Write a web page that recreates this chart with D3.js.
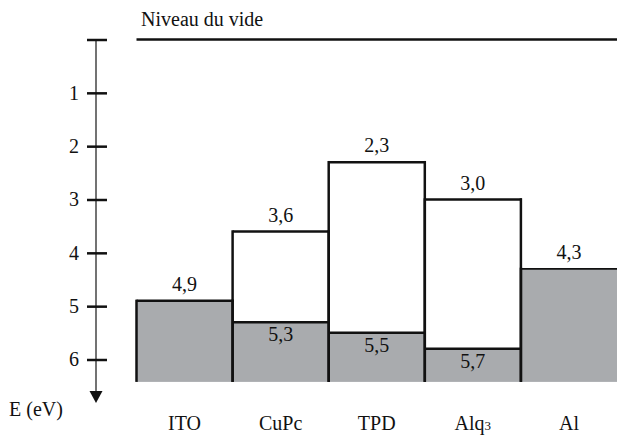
<!DOCTYPE html>
<html>
<head>
<meta charset="utf-8">
<script src="https://cdn.jsdelivr.net/npm/d3@7"></script>
<style>
  body { margin: 0; background: #fff; }
</style>
</head>
<body>
<div id="chart"></div>
<script>
// materials, left to right
const materials = ["ITO", "CuPc", "TPD", "Alq", "Al"];
// LUMO level (null for electrodes)
const lumo = [null, 3.6, 2.3, 3.0, null];
// HOMO level / work function, as drawn
const homo = [4.9, 5.3, 5.5, 5.8, 4.3];
const lumoLabels = [null, "3,6", "2,3", "3,0", null];
const homoLabels = ["4,9", "5,3", "5,5", "5,7", "4,3"];
const tickVals = [0, 1, 2, 3, 4, 5, 6];

const width = 617, height = 436;
const serif = "Liberation Serif";
const svg = d3.select("#chart").append("svg")
  .attr("width", width).attr("height", height)
  .style("font-family", serif);

const y = d3.scaleLinear().domain([0, 6]).range([39.5, 359.5]);
const x = d3.scaleBand().domain(materials).range([136.5, 617]).padding(0);
const bottom = y(6.42);
const grey = "#a9abae";

function label(sel) {
  return sel.style("font-family", serif).style("font-size", "20px").attr("fill", "#111");
}

// vacuum level
svg.append("line")
  .attr("x1", 136.5).attr("x2", width)
  .attr("y1", y(0)).attr("y2", y(0))
  .attr("stroke", "#111").attr("stroke-width", 2.5);
label(svg.append("text").attr("x", 141).attr("y", 26)).text("Niveau du vide");

// energy axis
svg.append("line")
  .attr("x1", 96).attr("x2", 96)
  .attr("y1", y(0)).attr("y2", 392)
  .attr("stroke", "#444").attr("stroke-width", 1.5);
svg.append("path")
  .attr("d", "M89.5,391 L102.5,391 L96,403 Z")
  .attr("fill", "#111");

const axis = d3.axisLeft(y)
  .tickValues(tickVals)
  .tickSize(20)
  .tickPadding(8)
  .tickFormat(d => d === 0 ? "" : d);
const gAxis = svg.append("g")
  .attr("transform", "translate(107,0)")
  .call(axis);
gAxis.attr("font-family", serif).attr("font-size", 20);
gAxis.select(".domain").remove();
gAxis.selectAll(".tick line").attr("stroke", "#111").attr("stroke-width", 2.5);
label(gAxis.selectAll(".tick text"));

label(svg.append("text").attr("x", 9).attr("y", 416)).text("E (eV)");

// columns: fills first
const cols = svg.append("g");
materials.forEach((m, i) => {
  const x0 = x(m), w = x.bandwidth();
  cols.append("rect")
    .attr("x", x0).attr("y", y(homo[i]))
    .attr("width", w).attr("height", bottom - y(homo[i]))
    .attr("fill", grey);
});

// outlines and labels
materials.forEach((m, i) => {
  const x0 = x(m), w = x.bandwidth();
  const last = i === materials.length - 1;
  const top = lumo[i] !== null ? y(lumo[i]) : y(homo[i]);
  const sw = last ? 1.8 : 2.5;
  cols.append("line")
    .attr("x1", x0).attr("x2", last ? width : x0 + w + 1)
    .attr("y1", top).attr("y2", top)
    .attr("stroke", "#111").attr("stroke-width", sw);
  if (lumo[i] !== null) {
    cols.append("line")
      .attr("x1", x0).attr("x2", x0 + w + 1)
      .attr("y1", y(homo[i])).attr("y2", y(homo[i]))
      .attr("stroke", "#111").attr("stroke-width", 2.5);
  }
  // left edge
  cols.append("line")
    .attr("x1", x0).attr("x2", x0)
    .attr("y1", top - 1.2).attr("y2", bottom)
    .attr("stroke", "#111").attr("stroke-width", 2.5);
  // right edge
  if (!last) {
    cols.append("line")
      .attr("x1", x0 + w).attr("x2", x0 + w)
      .attr("y1", top - 1.2).attr("y2", bottom)
      .attr("stroke", "#111").attr("stroke-width", 2.5);
  }

  const cx = last ? (x0 + width) / 2 : x0 + w / 2;
  if (lumo[i] !== null) {
    label(svg.append("text").attr("x", cx).attr("y", y(lumo[i]) - 10))
      .attr("text-anchor", "middle").text(lumoLabels[i]);
    label(svg.append("text").attr("x", cx).attr("y", y(homo[i]) + 19))
      .attr("text-anchor", "middle").text(homoLabels[i]);
  } else {
    label(svg.append("text").attr("x", cx).attr("y", y(homo[i]) - 10))
      .attr("text-anchor", "middle").text(homoLabels[i]);
  }

  const lab = label(svg.append("text").attr("x", cx).attr("y", 430))
    .attr("text-anchor", "middle");
  lab.append("tspan").text(m);
  if (m === "Alq") lab.append("tspan").style("font-size", "13px").text("3");
});
</script>
</body>
</html>
